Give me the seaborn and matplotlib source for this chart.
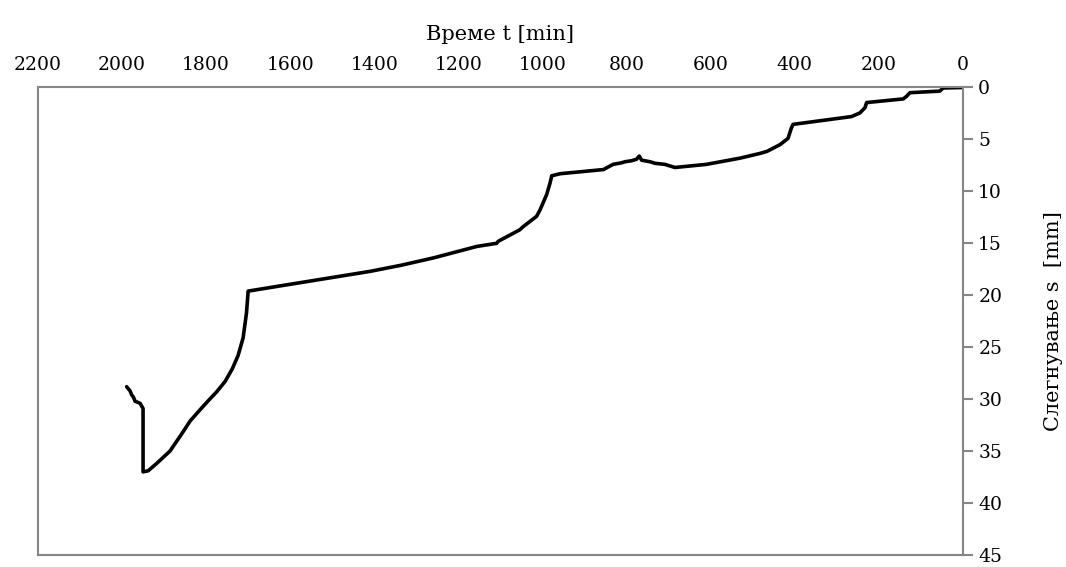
import numpy as np
import pandas as pd
import matplotlib
matplotlib.use('Agg')
import matplotlib.pyplot as plt
import seaborn as sns

# time [min] and settlement [mm]
time_min = [0, 47, 55, 126, 134, 142, 229, 233, 245, 265, 404, 408, 416, 435,
            466, 483, 530, 610, 685, 697, 709, 732, 744, 764, 770, 776, 788,
            804, 812, 832, 839, 855, 958, 978, 982, 990, 1006, 1014, 1046,
            1054, 1105, 1109, 1156, 1259, 1335, 1410, 1624, 1700, 1704, 1712,
            1724, 1738, 1755, 1775, 1796, 1814, 1838, 1859, 1886, 1918, 1938,
            1950, 1950, 1957, 1969, 1973, 1977, 1981, 1985, 1989]
settle_mm = [0.0, 0.05, 0.35, 0.5, 0.85, 1.1, 1.45, 1.95, 2.45, 2.8, 3.55, 3.9,
             4.9, 5.5, 6.15, 6.35, 6.8, 7.4, 7.7, 7.55, 7.4, 7.3, 7.15, 7.0,
             6.6, 6.9, 7.05, 7.15, 7.25, 7.4, 7.55, 7.9, 8.3, 8.5, 9.2, 10.3,
             11.8, 12.4, 13.4, 13.7, 14.8, 15.0, 15.3, 16.4, 17.1, 17.7, 19.1,
             19.6, 21.7, 24.1, 25.8, 27.1, 28.3, 29.3, 30.2, 31.0, 32.1, 33.4,
             35.0, 36.2, 36.9, 37.0, 30.9, 30.4, 30.2, 29.8, 29.6, 29.2, 29.0,
             28.8]

x_ticks = list(range(0, 2201, 200))
y_ticks = list(range(0, 46, 5))

sns.set_style("white")
plt.rcParams['font.family'] = ['DejaVu Serif']
plt.rcParams['text.color'] = 'black'
plt.rcParams['axes.labelcolor'] = 'black'

df = pd.DataFrame({'t': time_min, 's': settle_mm})

fig = plt.figure(figsize=(10.66, 5.67), dpi=100)
ax = fig.add_axes([0.0356, 0.0212, 0.8677, 0.8245])

sns.lineplot(data=df, x='t', y='s', ax=ax, sort=False, estimator=None,
             color='black', linewidth=2.6)

ax.set_xlim(2200, 0)
ax.set_ylim(45, 0)
ax.set_xticks(x_ticks)
ax.set_yticks(y_ticks)

ax.xaxis.tick_top()
ax.xaxis.set_label_position('top')
ax.yaxis.tick_right()
ax.yaxis.set_label_position('right')

ax.set_xlabel("Време t [min]", fontsize=15, labelpad=11)
ax.set_ylabel("Слегнување s  [mm]", fontsize=15, labelpad=30)

ax.tick_params(axis='x', length=0, pad=10, labelsize=13.5, colors='black')
ax.tick_params(axis='y', direction='out', length=7, width=1.5, color='#868686',
               pad=4, labelsize=13.5, labelcolor='black')

for sp in ax.spines.values():
    sp.set_visible(True)
    sp.set_color('#868686')
    sp.set_linewidth(1.5)

ax.grid(False)
fig.savefig('out.png', dpi=100)
plt.close(fig)
